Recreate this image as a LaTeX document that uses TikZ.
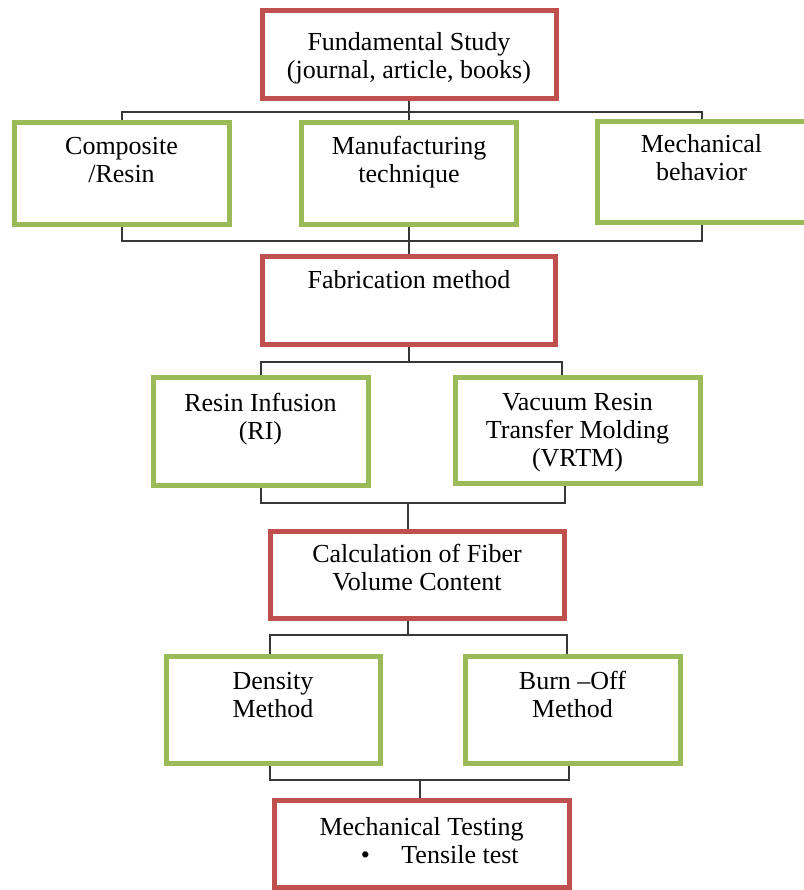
\documentclass[tikz,border=0pt]{standalone}
\usepackage{fontspec}
\setmainfont{Liberation Serif}
\usepackage{xcolor}
\usetikzlibrary{positioning}

\definecolor{stepred}{RGB}{192,80,77}
\definecolor{stepgreen}{RGB}{155,187,89}
\definecolor{linkgray}{RGB}{55,55,55}

\tikzset{
  redbox/.style={draw=stepred, line width=2.5pt, inner sep=0pt},
  greenbox/.style={draw=stepgreen, line width=2.5pt, inner sep=0pt},
  boxtext/.style={align=center, inner sep=0pt, font=\fontsize{13}{14}\selectfont},
  link/.style={draw=linkgray, line width=1pt},
}

\begin{document}
\begin{tikzpicture}[x=0.5pt, y=-0.5pt]
            \useasboundingbox (0,0) rectangle (804,890);

            % Fundamental study
            \node[redbox, minimum width=147pt, minimum height=44pt] (study) at (409,54) {};
            \node[boxtext, below=12.25pt of study.north] (studyT) {Fundamental Study\\(journal, article, books)};

            % Literature topics
            \node[greenbox, minimum width=107.5pt, minimum height=51pt] (comp) at (121.5,173) {};
            \node[boxtext, below=8.75pt of comp.north] (compT) {Composite\\/Resin};
            \node[greenbox, minimum width=107.5pt, minimum height=51pt] (manu) at (409,173) {};
            \node[boxtext, below=8.25pt of manu.north] (manuT) {Manufacturing\\technique};
            \node[greenbox, minimum width=104.5pt, minimum height=50.5pt] (mech) at (701.5,171.5) {};
            \node[boxtext, below=7.75pt of mech.north] (mechT) {Mechanical\\behavior};

            % Fabrication
            \node[redbox, minimum width=146.5pt, minimum height=44pt] (fab) at (409,300) {};
            \node[boxtext, below=8.25pt of fab.north] (fabT) {Fabrication method};
            \node[greenbox, minimum width=107.5pt, minimum height=54pt] (ri) at (260.5,431) {};
            \node[boxtext, below=9.25pt of ri.north] (riT) {Resin Infusion\\(RI)};
            \node[greenbox, minimum width=122.5pt, minimum height=53pt] (vrtm) at (577.5,430) {};
            \node[boxtext, below=9.25pt of vrtm.north] (vrtmT) {Vacuum Resin\\Transfer Molding\\(VRTM)};

            % Fiber volume content
            \node[redbox, minimum width=147pt, minimum height=43.5pt] (calc) at (417,574.5) {};
            \node[boxtext, below=7.75pt of calc.north] (calcT) {Calculation of Fiber\\Volume Content};
            \node[greenbox, minimum width=107pt, minimum height=53.5pt] (dens) at (273,709.5) {};
            \node[boxtext, below=9.25pt of dens.north] (densT) {Density\\Method};
            \node[greenbox, minimum width=107.5pt, minimum height=53.5pt] (burn) at (572.5,709.5) {};
            \node[boxtext, below=8.75pt of burn.north] (burnT) {Burn --Off\\Method};

            % Testing
            \node[redbox, minimum width=147.5pt, minimum height=43.5pt] (test) at (421.5,843.5) {};
            \node[boxtext, below=9.75pt of test.north] (testT) {Mechanical Testing\\\hspace*{18.25pt}\textbullet\hspace{15.75pt}Tensile test};

            % Connectors
            \coordinate (busA) at (409,112);
            \draw[link] (study.south) -- (busA);
            \draw[link] (comp.north) |- (busA) -| (mech.north);
            \draw[link] (busA) -- (manu.north);

            \coordinate (busB) at (409,241);
            \draw[link] (comp.south) |- (busB) -| (mech.south);
            \draw[link] (manu.south) -- (busB) -- (fab.north);

            \coordinate (busC) at (409,362);
            \draw[link] (fab.south) -- (busC);
            \draw[link] (ri.north) |- (busC) -| ([xshift=-7.75pt]vrtm.north);

            \coordinate (busD) at (408,503);
            \draw[link] (ri.south) |- (busD) -| ([xshift=-6.25pt]vrtm.south);
            \draw[link] (busD) -- (busD |- calc.north);

            \coordinate (busE) at (408,635);
            \draw[link] (busE |- calc.south) -- (busE);
            \draw[link] ([xshift=-1.5pt]dens.north) |- (busE) -| ([xshift=-2.75pt]burn.north);

            \coordinate (busF) at (420,780);
            \draw[link] ([xshift=-1.5pt]dens.south) |- (busF) -| ([xshift=-1.75pt]burn.south);
            \draw[link] (busF) -- (busF |- test.north);
\end{tikzpicture}
\end{document}
